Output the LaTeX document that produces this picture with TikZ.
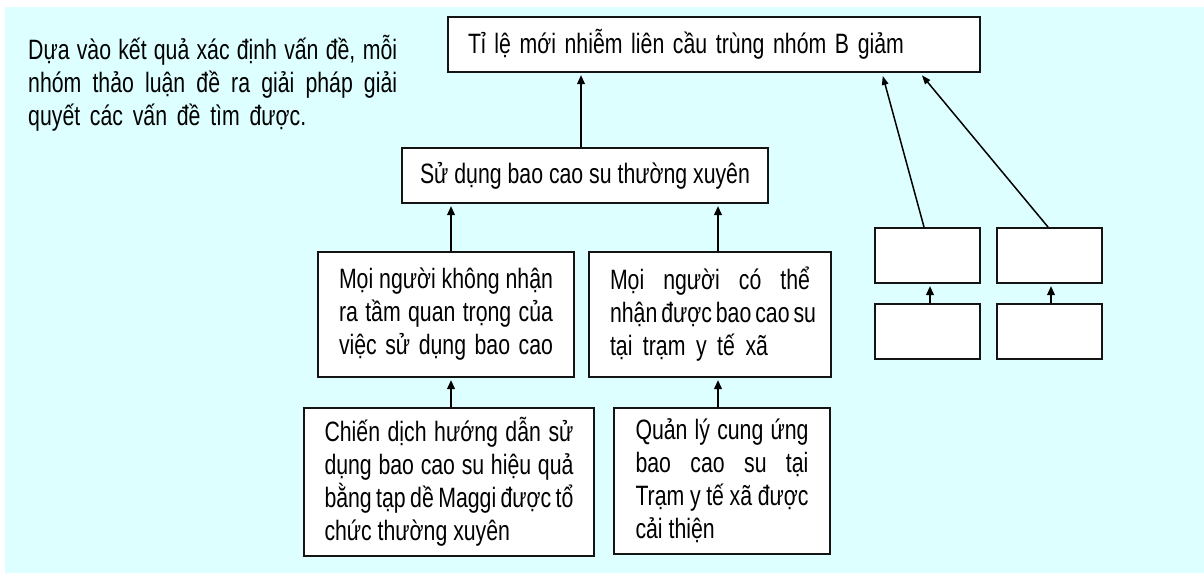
\documentclass[tikz,border=0pt]{standalone}
\usepackage{fontspec}
\setmainfont{Liberation Sans}[FakeStretch=0.76]
\usetikzlibrary{arrows.meta}
\definecolor{bgcyan}{RGB}{221,255,255}
\definecolor{edge}{RGB}{20,20,20}
% a line of text spread to a given width, with the font's own word spaces
\newcommand{\jline}[2]{\makebox[#1][s]{\spaceskip=0pt\xspaceskip=0pt\relax#2}}
% a line of text at its natural width
\newcommand{\lline}[1]{\hbox{\spaceskip=0pt\xspaceskip=0pt\relax#1}}

\begin{document}
\begin{tikzpicture}[x=1pt,y=-1pt,
  txt/.style={font=\fontsize{28}{33}\selectfont},
  box/.style={txt, draw=edge, line width=2pt, fill=white, inner ysep=0pt, anchor=north west},
  arr/.style={-{Triangle[length=9pt,width=7.5pt]}, line width=2pt, shorten >=2pt},
  link/.style={-{Triangle[length=9pt,width=6.5pt]}, line width=1.5pt, shorten >=3pt}]
\useasboundingbox (0,0) rectangle (1204,574);
\fill[white] (0,0) rectangle (1204,574);
\fill[bgcyan] (5,7) rectangle (1204,573);

% introduction
\node[txt, anchor=base west, inner sep=0pt] (intro1) at (28,59)
  {\jline{369pt}{Dựa vào kết quả xác định vấn đề, mỗi}};
\node[txt, anchor=base west, inner sep=0pt] (intro2) at (28,92)
  {\jline{369pt}{nhóm thảo luận đề ra giải pháp giải}};
\node[txt, anchor=base west, inner sep=0pt] (intro3) at (28,125)
  {\jline{278pt}{quyết các vấn đề tìm được.}};

% goal
\node[box, minimum width=532pt, minimum height=55pt, inner xsep=20pt, text width=492pt, align=justify] (goal) at (447,16)
  {\jline{436pt}{Tỉ lệ mới nhiễm liên cầu trùng nhóm B giảm}};

% solution
\node[box, minimum width=366pt, minimum height=55pt] (mid) at (401,147)
  {\lline{Sử dụng bao cao su thường xuyên}};

% causes
\node[box, minimum width=256pt, minimum height=125pt, inner xsep=21pt, text width=214pt, align=justify] (la) at (317,251)
  {\jline{214pt}{Mọi người không nhận}\\
   \jline{214pt}{ra tầm quan trọng của}\\
   \jline{214pt}{việc sử dụng bao cao}};
\node[box, minimum width=242pt, minimum height=125pt, inner xsep=21pt, text width=200pt, align=justify] (ra) at (588,251)
  {\jline{200pt}{Mọi người có thể}\\
   \jline{200pt}{nhận được bao cao su}\\
   \jline{158pt}{tại trạm y tế xã}};

% actions
\node[box, minimum width=290pt, minimum height=148pt, inner xsep=20.5pt, text width=249pt, align=justify] (lb) at (303,407)
  {\jline{249pt}{Chiến dịch hướng dẫn sử}\\
   \jline{249pt}{dụng bao cao su hiệu quả}\\
   \jline{249pt}{bằng tạp dề Maggi được tổ}\\
   \lline{chức thường xuyên}};
\node[box, minimum width=216pt, minimum height=146pt, inner xsep=21.5pt, text width=173pt, align=justify] (rb) at (613,407)
  {\jline{173pt}{Quản lý cung ứng}\\
   \jline{173pt}{bao cao su tại}\\
   \jline{173pt}{Trạm y tế xã được}\\
   \lline{cải thiện}};

% empty boxes
\node[box, minimum width=105pt, minimum height=55pt] (e1) at (874,227) {};
\node[box, minimum width=105pt, minimum height=55pt] (e2) at (996,227) {};
\node[box, minimum width=105pt, minimum height=55pt] (e3) at (874,303) {};
\node[box, minimum width=105pt, minimum height=55pt] (e4) at (996,303) {};

% connectors
\draw[arr] ([xshift=-4pt]mid.north) -- ([xshift=-4pt]mid.north |- goal.south);
\draw[arr] ([xshift=5pt]la.north) -- ([xshift=5pt]la.north |- mid.south);
\draw[arr] ([xshift=8pt]ra.north) -- ([xshift=8pt]ra.north |- mid.south);
\draw[arr] ([xshift=2pt]lb.north) -- ([xshift=2pt]lb.north |- la.south);
\draw[arr] ([xshift=-4pt]rb.north) -- ([xshift=-4pt]rb.north |- ra.south);
\draw[arr] ([xshift=2.5pt]e3.north) -- ([xshift=2.5pt]e3.north |- e1.south);
\draw[arr] ([xshift=1.5pt]e4.north) -- ([xshift=1.5pt]e4.north |- e2.south);
\draw[link] ([xshift=-3.5pt]e1.north) -- ([xshift=168pt]goal.south);
\draw[link] ([xshift=-1.5pt]e2.north) -- ([xshift=206pt]goal.south);
\end{tikzpicture}
\end{document}
